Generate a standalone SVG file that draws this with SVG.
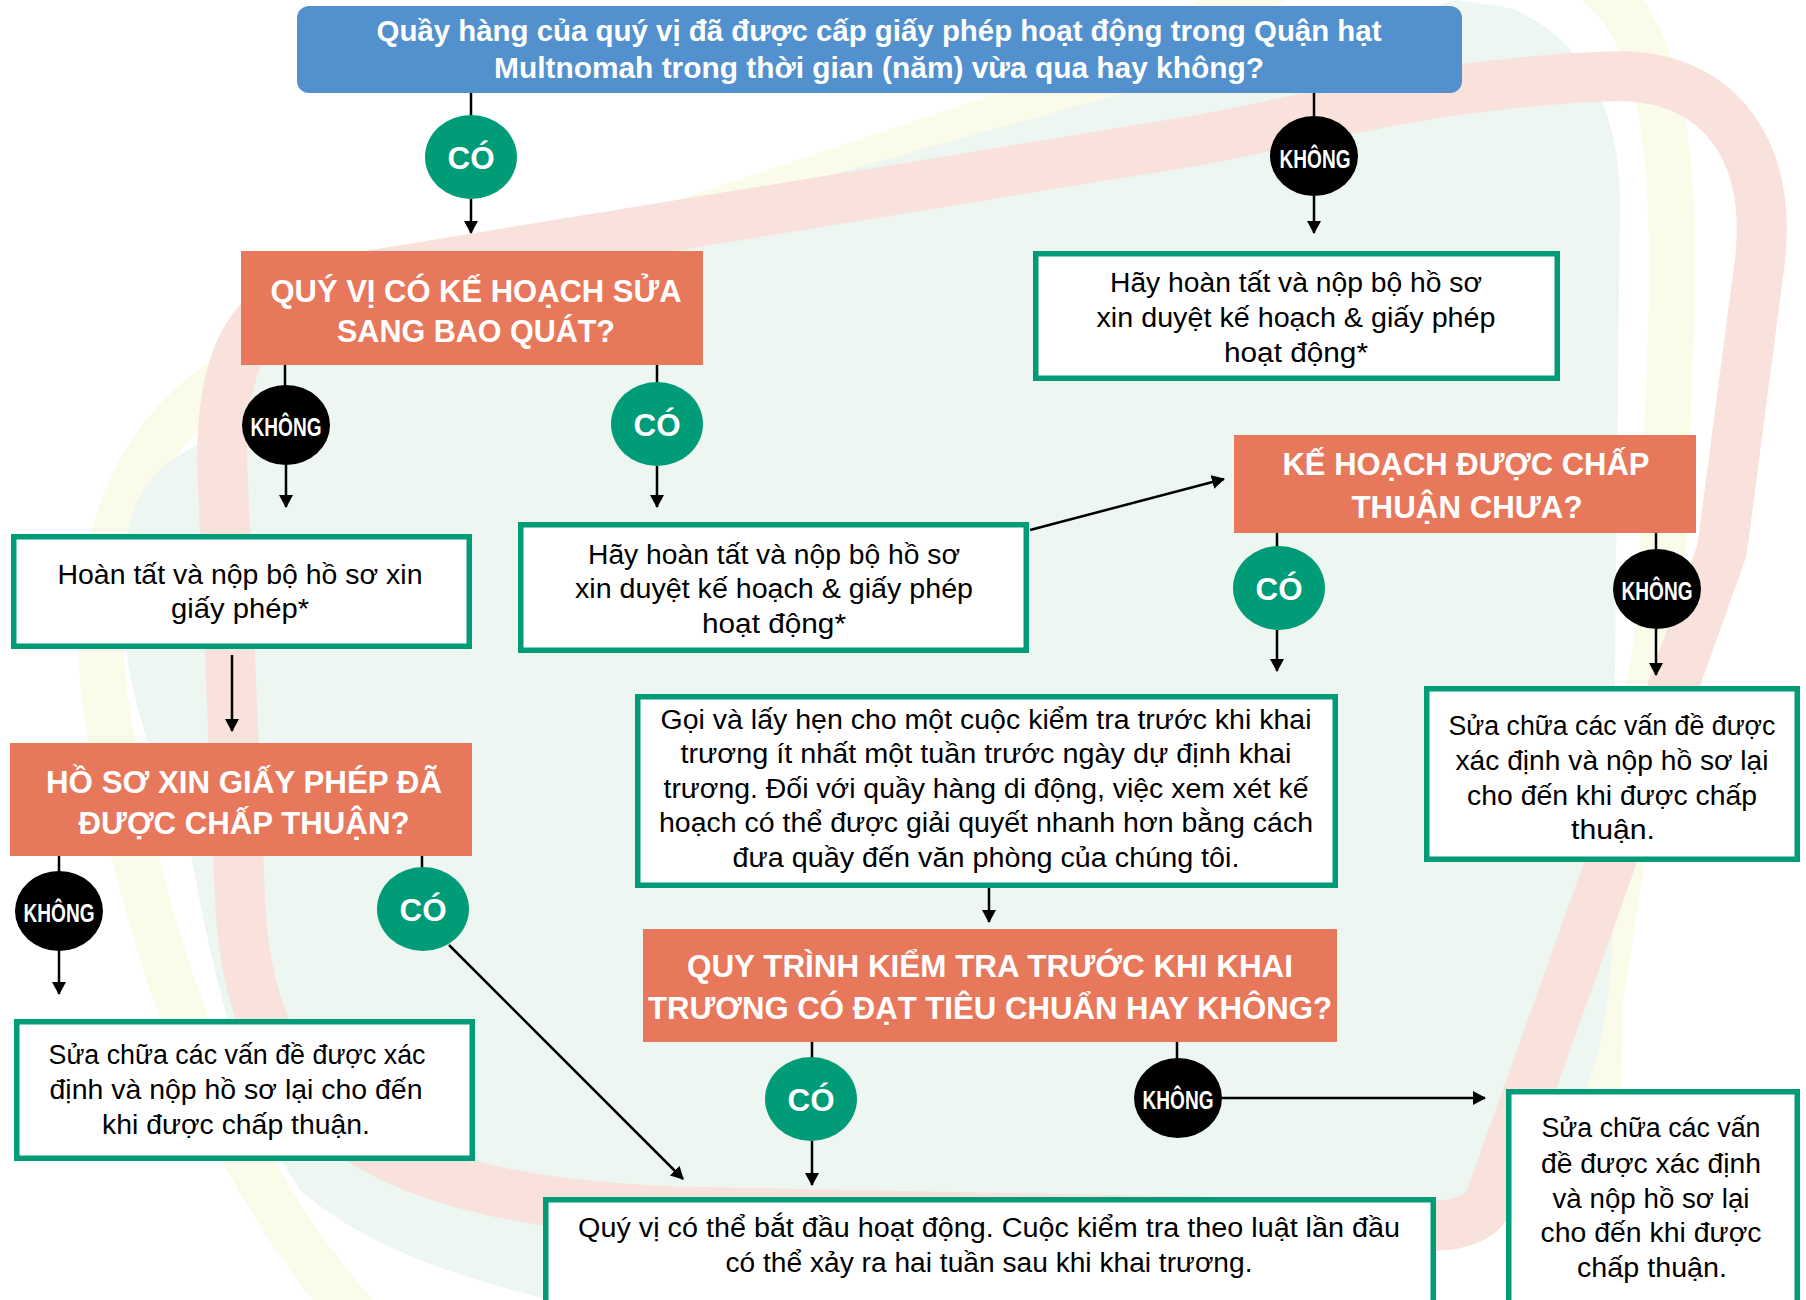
<svg xmlns="http://www.w3.org/2000/svg" width="1806" height="1300" viewBox="0 0 1806 1300">
<defs>
<style>
.hdr{font-family:'Liberation Sans',Arial,sans-serif;font-weight:bold;fill:#fff;text-anchor:middle}
.q{font-size:31px}
.top{font-size:30px}
.body{font-family:'Liberation Sans',Arial,sans-serif;fill:#000;font-size:27px;text-anchor:middle}
.yes{fill:#009B77}
.no{fill:#000}
.yl{font-family:'Liberation Sans',Arial,sans-serif;font-weight:bold;fill:#fff;font-size:31px;text-anchor:middle}
.nl{font-family:'Liberation Sans',Arial,sans-serif;font-weight:bold;fill:#fff;font-size:25px;text-anchor:middle}
.orange{fill:#E8785B}
.gbox{fill:#fff;stroke:#009B77;stroke-width:5.5}
.conn line{stroke:#000;stroke-width:2.5;fill:none}
.arr{marker-end:url(#ah)}
</style>
<marker id="ah" markerUnits="userSpaceOnUse" markerWidth="14" markerHeight="14" refX="12" refY="7" orient="auto">
<path d="M0,0 L13,7 L0,14 Z" fill="#000"/>
</marker>
</defs>

<g id="background">
<path d="M360,1320 C250,1200 150,1000 105,700 C90,580 115,440 240,370 L1050,100 C1150,60 1250,0 1300,-40 M1560,-40 C1650,0 1675,100 1672,300 L1660,620 L1600,1000 L1592,1320" fill="none" stroke="#FBFBEA" stroke-width="46"/>
<path d="M1457,0 L1510,8 C1590,40 1620,120 1620,200 L1612,950 C1605,1080 1570,1160 1494,1180 L1300,1320 L640,1320 C500,1290 380,1260 300,1190 C240,1100 210,960 190,850 C150,760 124,680 124,614 C122,560 128,515 140,495 C155,465 190,450 222,430 C222,340 260,300 330,285 L600,239 Z" fill="#EDF6F0"/>
<path d="M222,460 C222,340 260,300 330,282 L1200,140 C1330,115 1450,80 1625,76 C1720,80 1772,150 1760,260 L1722,550 L1490,1200 Q1476,1228 1420,1226 L700,1212 C380,1205 250,1120 240,900 Z" fill="none" stroke="#F8E2DB" stroke-width="50" stroke-linejoin="round"/>
</g>

<g id="connectors" class="conn">
<line x1="471" y1="92" x2="471" y2="116"/>
<line class="arr" x1="471" y1="199" x2="471" y2="233"/>
<line x1="1314" y1="92" x2="1314" y2="116"/>
<line class="arr" x1="1314" y1="196" x2="1314" y2="233"/>
<line x1="285" y1="365" x2="285" y2="386"/>
<line class="arr" x1="286" y1="464" x2="286" y2="507"/>
<line x1="657" y1="365" x2="657" y2="383"/>
<line class="arr" x1="657" y1="466" x2="657" y2="507"/>
<line class="arr" x1="1030" y1="530" x2="1224" y2="479"/>
<line x1="1277" y1="533" x2="1277" y2="547"/>
<line class="arr" x1="1277" y1="630" x2="1277" y2="671"/>
<line x1="1656" y1="533" x2="1656" y2="550"/>
<line class="arr" x1="1656" y1="629" x2="1656" y2="675"/>
<line class="arr" x1="989" y1="888" x2="989" y2="922"/>
<line x1="812" y1="1042" x2="812" y2="1058"/>
<line class="arr" x1="812" y1="1141" x2="812" y2="1185"/>
<line x1="1177" y1="1042" x2="1177" y2="1059"/>
<line class="arr" x1="1222" y1="1098" x2="1485" y2="1098"/>
<line class="arr" x1="232" y1="655" x2="232" y2="731"/>
<line x1="59" y1="856" x2="59" y2="872"/>
<line class="arr" x1="59" y1="951" x2="59" y2="994"/>
<line x1="422" y1="856" x2="422" y2="868"/>
<line class="arr" x1="449" y1="945" x2="683" y2="1179"/>
</g>

<g id="n-top">
<rect x="297" y="6" width="1165" height="87" rx="12" fill="#5291CD"/>
<text class="hdr top" x="879" y="41" textLength="1005" lengthAdjust="spacingAndGlyphs">Quầy hàng của quý vị đã được cấp giấy phép hoạt động trong Quận hạt</text>
<text class="hdr top" x="879" y="78" textLength="770" lengthAdjust="spacingAndGlyphs">Multnomah trong thời gian (năm) vừa qua hay không?</text>
</g>

<g id="c-yes1"><ellipse class="yes" cx="471" cy="157" rx="46" ry="42"/><text class="yl" x="471" y="169" textLength="47" lengthAdjust="spacingAndGlyphs">CÓ</text></g>
<g id="c-no1"><ellipse class="no" cx="1314" cy="156" rx="44" ry="40"/><text class="nl" x="1315" y="168" textLength="71" lengthAdjust="spacingAndGlyphs">KHÔNG</text></g>

<g id="n-remodel">
<rect class="orange" x="241" y="251" width="462" height="114"/>
<text class="hdr q" x="476" y="302" textLength="411" lengthAdjust="spacingAndGlyphs">QUÝ VỊ CÓ KẾ HOẠCH SỬA</text>
<text class="hdr q" x="476" y="342" textLength="278" lengthAdjust="spacingAndGlyphs">SANG BAO QUÁT?</text>
</g>

<g id="n-apply-right">
<rect class="gbox" x="1035.75" y="253.75" width="521.5" height="124.5"/>
<text class="body" x="1296" y="292" textLength="372" lengthAdjust="spacingAndGlyphs">Hãy hoàn tất và nộp bộ hồ sơ</text>
<text class="body" x="1296" y="327" textLength="399" lengthAdjust="spacingAndGlyphs">xin duyệt kế hoạch &amp; giấy phép</text>
<text class="body" x="1296" y="362" textLength="144" lengthAdjust="spacingAndGlyphs">hoạt động*</text>
</g>

<g id="c-no2"><ellipse class="no" cx="286" cy="425" rx="44" ry="40"/><text class="nl" x="286" y="436" textLength="71" lengthAdjust="spacingAndGlyphs">KHÔNG</text></g>
<g id="c-yes2"><ellipse class="yes" cx="657" cy="424" rx="46" ry="42"/><text class="yl" x="657" y="436" textLength="47" lengthAdjust="spacingAndGlyphs">CÓ</text></g>

<g id="n-permit">
<rect class="gbox" x="13.75" y="536.75" width="455.5" height="109.5"/>
<text class="body" x="240" y="584" textLength="365" lengthAdjust="spacingAndGlyphs">Hoàn tất và nộp bộ hồ sơ xin</text>
<text class="body" x="240" y="618" textLength="138" lengthAdjust="spacingAndGlyphs">giấy phép*</text>
</g>

<g id="n-apply-mid">
<rect class="gbox" x="520.75" y="524.75" width="505.5" height="125.5"/>
<text class="body" x="774" y="564" textLength="372" lengthAdjust="spacingAndGlyphs">Hãy hoàn tất và nộp bộ hồ sơ</text>
<text class="body" x="774" y="598" textLength="398" lengthAdjust="spacingAndGlyphs">xin duyệt kế hoạch &amp; giấy phép</text>
<text class="body" x="774" y="633" textLength="144" lengthAdjust="spacingAndGlyphs">hoạt động*</text>
</g>

<g id="n-plan">
<rect class="orange" x="1234" y="435" width="462" height="98"/>
<text class="hdr q" x="1466" y="475" textLength="367" lengthAdjust="spacingAndGlyphs">KẾ HOẠCH ĐƯỢC CHẤP</text>
<text class="hdr q" x="1467" y="518" textLength="231" lengthAdjust="spacingAndGlyphs">THUẬN CHƯA?</text>
</g>

<g id="c-yes3"><ellipse class="yes" cx="1279" cy="588" rx="46" ry="42"/><text class="yl" x="1279" y="600" textLength="47" lengthAdjust="spacingAndGlyphs">CÓ</text></g>
<g id="c-no3"><ellipse class="no" cx="1657" cy="589" rx="44" ry="40"/><text class="nl" x="1657" y="600" textLength="71" lengthAdjust="spacingAndGlyphs">KHÔNG</text></g>

<g id="n-fix-right">
<rect class="gbox" x="1426.75" y="688.75" width="370.5" height="170.5"/>
<text class="body" x="1612" y="735" textLength="327" lengthAdjust="spacingAndGlyphs">Sửa chữa các vấn đề được</text>
<text class="body" x="1612" y="770" textLength="313" lengthAdjust="spacingAndGlyphs">xác định và nộp hồ sơ lại</text>
<text class="body" x="1612" y="805" textLength="290" lengthAdjust="spacingAndGlyphs">cho đến khi được chấp</text>
<text class="body" x="1613" y="839" textLength="84" lengthAdjust="spacingAndGlyphs">thuận.</text>
</g>

<g id="n-call">
<rect class="gbox" x="637.75" y="696.75" width="697.5" height="188.5"/>
<text class="body" x="986" y="729" textLength="651" lengthAdjust="spacingAndGlyphs">Gọi và lấy hẹn cho một cuộc kiểm tra trước khi khai</text>
<text class="body" x="986" y="763" textLength="611" lengthAdjust="spacingAndGlyphs">trương ít nhất một tuần trước ngày dự định khai</text>
<text class="body" x="986" y="798" textLength="645" lengthAdjust="spacingAndGlyphs">trương. Đối với quầy hàng di động, việc xem xét kế</text>
<text class="body" x="986" y="832" textLength="654" lengthAdjust="spacingAndGlyphs">hoạch có thể được giải quyết nhanh hơn bằng cách</text>
<text class="body" x="986" y="867" textLength="507" lengthAdjust="spacingAndGlyphs">đưa quầy đến văn phòng của chúng tôi.</text>
</g>

<g id="n-approved">
<rect class="orange" x="10" y="743" width="462" height="113"/>
<text class="hdr q" x="244" y="793" textLength="396" lengthAdjust="spacingAndGlyphs">HỒ SƠ XIN GIẤY PHÉP ĐÃ</text>
<text class="hdr q" x="244" y="834" textLength="331" lengthAdjust="spacingAndGlyphs">ĐƯỢC CHẤP THUẬN?</text>
</g>

<g id="c-no5"><ellipse class="no" cx="59" cy="911" rx="44" ry="40"/><text class="nl" x="59" y="922" textLength="71" lengthAdjust="spacingAndGlyphs">KHÔNG</text></g>
<g id="c-yes5"><ellipse class="yes" cx="423" cy="909" rx="46" ry="42"/><text class="yl" x="423" y="921" textLength="47" lengthAdjust="spacingAndGlyphs">CÓ</text></g>

<g id="n-inspect">
<rect class="orange" x="643" y="929" width="694" height="113"/>
<text class="hdr q" x="990" y="977" textLength="606" lengthAdjust="spacingAndGlyphs">QUY TRÌNH KIỂM TRA TRƯỚC KHI KHAI</text>
<text class="hdr q" x="990" y="1019" textLength="684" lengthAdjust="spacingAndGlyphs">TRƯƠNG CÓ ĐẠT TIÊU CHUẨN HAY KHÔNG?</text>
</g>

<g id="c-yes4"><ellipse class="yes" cx="811" cy="1099" rx="46" ry="42"/><text class="yl" x="811" y="1111" textLength="47" lengthAdjust="spacingAndGlyphs">CÓ</text></g>
<g id="c-no4"><ellipse class="no" cx="1178" cy="1098" rx="44" ry="40"/><text class="nl" x="1178" y="1109" textLength="71" lengthAdjust="spacingAndGlyphs">KHÔNG</text></g>

<g id="n-fix-left">
<rect class="gbox" x="16.75" y="1021.75" width="455.5" height="136.5"/>
<text class="body" x="237" y="1064" textLength="377" lengthAdjust="spacingAndGlyphs">Sửa chữa các vấn đề được xác</text>
<text class="body" x="236" y="1099" textLength="373" lengthAdjust="spacingAndGlyphs">định và nộp hồ sơ lại cho đến</text>
<text class="body" x="236" y="1134" textLength="268" lengthAdjust="spacingAndGlyphs">khi được chấp thuận.</text>
</g>

<g id="n-fix-bottom">
<rect class="gbox" x="1508.75" y="1091.75" width="288.5" height="230"/>
<text class="body" x="1651" y="1137" textLength="219" lengthAdjust="spacingAndGlyphs">Sửa chữa các vấn</text>
<text class="body" x="1651" y="1173" textLength="220" lengthAdjust="spacingAndGlyphs">đề được xác định</text>
<text class="body" x="1651" y="1208" textLength="197" lengthAdjust="spacingAndGlyphs">và nộp hồ sơ lại</text>
<text class="body" x="1651" y="1242" textLength="221" lengthAdjust="spacingAndGlyphs">cho đến khi được</text>
<text class="body" x="1652" y="1277" textLength="150" lengthAdjust="spacingAndGlyphs">chấp thuận.</text>
</g>

<g id="n-start">
<rect class="gbox" x="545.75" y="1199.75" width="887.5" height="130"/>
<text class="body" x="989" y="1237" textLength="822" lengthAdjust="spacingAndGlyphs">Quý vị có thể bắt đầu hoạt động. Cuộc kiểm tra theo luật lần đầu</text>
<text class="body" x="989" y="1272" textLength="527" lengthAdjust="spacingAndGlyphs">có thể xảy ra hai tuần sau khi khai trương.</text>
</g>
</svg>
